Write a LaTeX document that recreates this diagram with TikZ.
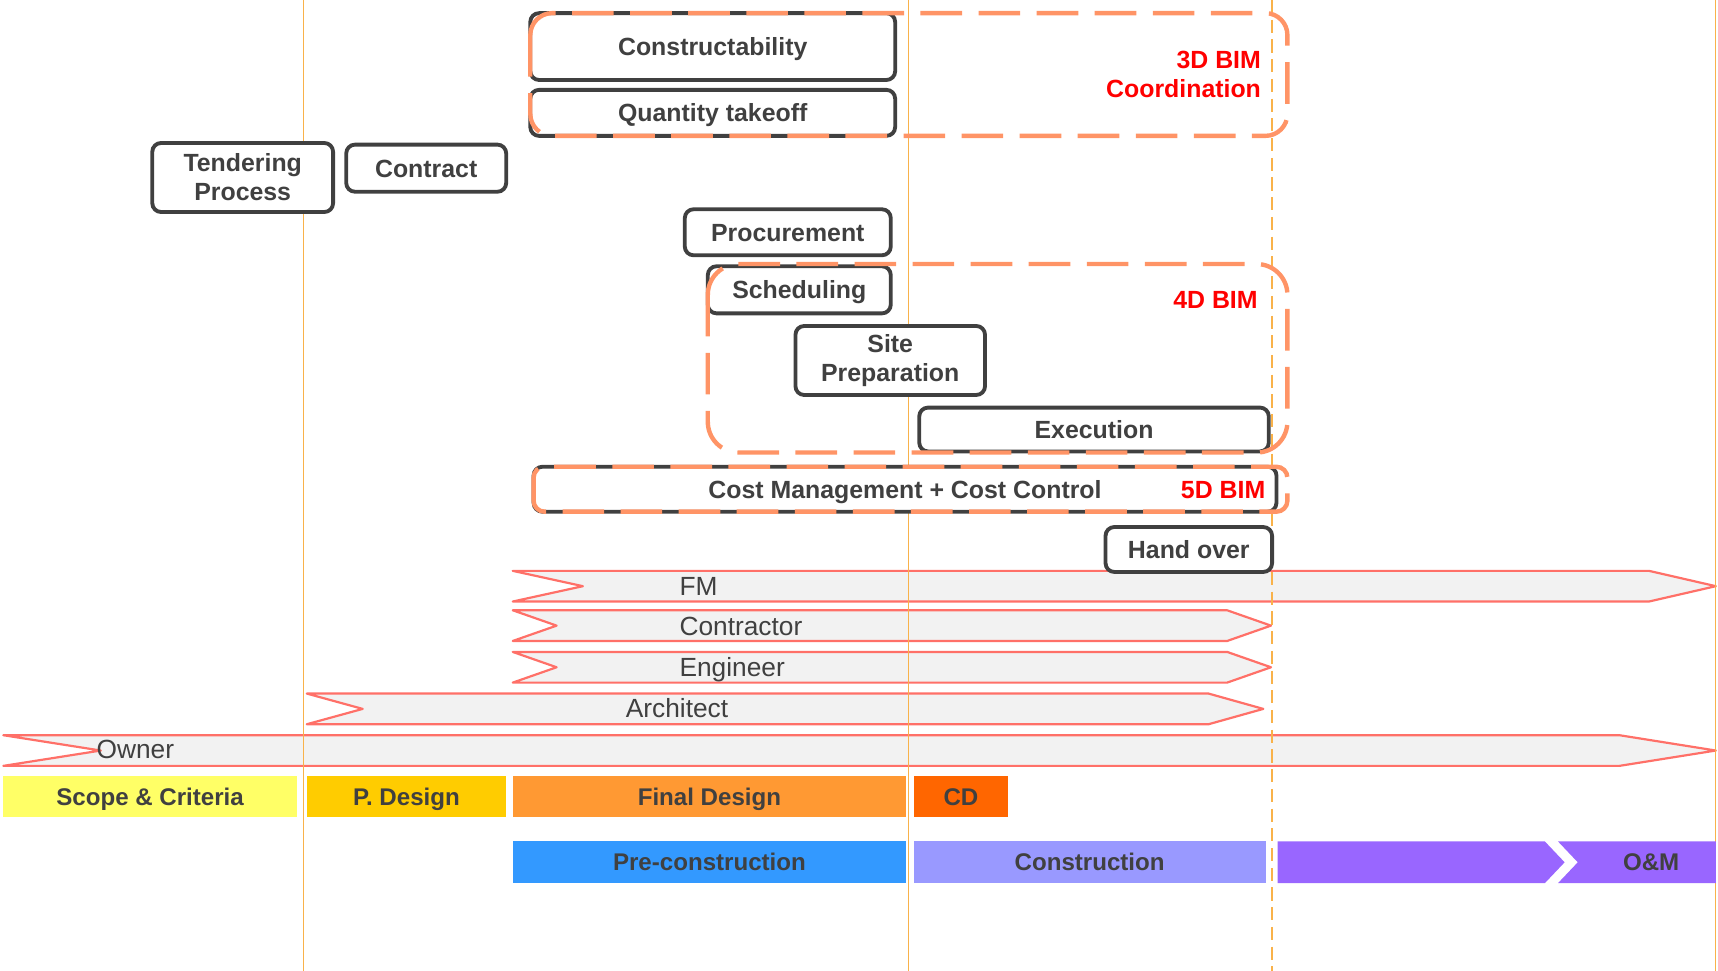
\documentclass[tikz,border=0pt]{standalone}
\usepackage{fontspec}
\setmainfont{Liberation Sans}
\definecolor{boxgrey}{HTML}{404040}
\definecolor{bimorange}{HTML}{FF9466}
\definecolor{rolered}{HTML}{FF7068}
\definecolor{rolegrey}{HTML}{F2F2F2}
\definecolor{lineorange}{HTML}{F9B24A}
\definecolor{scopeyellow}{HTML}{FFFF66}
\definecolor{pdesigngold}{HTML}{FFCC00}
\definecolor{finalorange}{HTML}{FF9933}
\definecolor{cdorange}{HTML}{FF6600}
\definecolor{preblue}{HTML}{3399FF}
\definecolor{conlilac}{HTML}{9999FF}
\definecolor{ompurple}{HTML}{9966FF}
\begin{document}
\begin{tikzpicture}[x=1pt, y=-1pt,
        task/.style = {draw=boxgrey, fill=white, line width=3.5pt, rounded corners=8pt, inner sep=0pt,
            text=boxgrey, align=center, font=\fontsize{22.7}{26.5}\selectfont\bfseries},
        oneline/.style = {text height=16.25pt, text depth=0pt},
        bim/.style = {draw=bimorange, line width=4pt, dash pattern=on 38pt off 15pt},
        bimlabel/.style = {anchor=east, inner sep=0pt, text=red, align=right,
            font=\fontsize{22.7}{27}\selectfont\bfseries},
        role/.style = {draw=rolered, fill=rolegrey, line width=2pt, line join=round},
        rolelabel/.style = {anchor=west, inner sep=0pt, text=boxgrey, text height=17.2pt, text depth=0pt,
            font=\fontsize{24}{28}\selectfont},
        phase/.style = {minimum height=38pt, inner sep=0pt, text=boxgrey, text height=15.75pt, text depth=0pt,
            font=\fontsize{22}{26}\selectfont\bfseries},
        timeline/.style = {draw=lineorange, line width=1.2pt}]
    \useasboundingbox (0,0) rectangle (1568,886);
    % roles
    \draw[role] (468,521) -- (1505,521) -- (1566,535) -- (1505,549) -- (468,549) -- (532,535) -- cycle;
    \draw[role] (468,557) -- (1120,557) -- (1160,571) -- (1120,585) -- (468,585) -- (508,571) -- cycle;
    \draw[role] (468,595) -- (1120,595) -- (1160,609) -- (1120,623) -- (468,623) -- (508,609) -- cycle;
    \draw[role] (280,633) -- (1103,633) -- (1153,647) -- (1103,661) -- (280,661) -- (331,647) -- cycle;
    \draw[role] (3,671) -- (1478,671) -- (1566,685) -- (1478,699) -- (3,699) -- (92,685) -- cycle;
    \node[rolelabel] (fm) at (620,535) {FM};
    \node[rolelabel] (contractor) at (620,571) {Contractor};
    \node[rolelabel] (engineer) at (620,609) {Engineer};
    \node[rolelabel] (architect) at (571,646) {Architect};
    \node[rolelabel] (owner) at (88,684) {Owner};
    % milestones
    \draw[timeline] (277,0) -- (277,886);
    \draw[timeline] (829,0) -- (829,886);
    \draw[timeline, dash pattern=on 12pt off 6pt] (1161,0) -- (1161,886);
    \draw[timeline] (1566,0) -- (1566,886);
    % phases
    \node[phase, fill=scopeyellow, minimum width=268pt] (scope) at (137,727) {Scope \& Criteria};
    \node[phase, fill=pdesigngold, minimum width=182pt] (pdesign) at (371,727) {P. Design};
    \node[phase, fill=finalorange, minimum width=359pt] (final) at (647.5,727) {Final Design};
    \node[phase, fill=cdorange, minimum width=86pt] (cd) at (877,727) {CD};
    \node[phase, fill=preblue, minimum width=359pt] (precon) at (647.5,787) {Pre-construction};
    \node[phase, fill=conlilac, minimum width=321pt] (construction) at (994.5,787) {Construction};
    \fill[ompurple] (1166,768) -- (1410,768) -- (1428,787) -- (1410,806) -- (1166,806) -- cycle;
    \fill[ompurple] (1422,768) -- (1566,768) -- (1566,806) -- (1422,806) -- (1440,787) -- cycle;
    \node[phase] (om) at (1507,787) {O\&M};
    % tasks
    \node[task, oneline, minimum width=333pt, minimum height=61pt] (constr) at (650.5,42.5) {Constructability};
    \node[task, oneline, minimum width=333pt, minimum height=42pt] (qty) at (650.5,103) {Quantity takeoff};
    \node[task, minimum width=165pt, minimum height=63pt] (tender) at (221.5,162) {Tendering\\Process};
    \node[task, oneline, minimum width=146pt, minimum height=43pt] (contract) at (389,153.5) {Contract};
    \node[task, oneline, minimum width=188pt, minimum height=42pt] (procure) at (719,212) {Procurement};
    \node[task, oneline, minimum width=167pt, minimum height=43pt] (sched) at (729.5,264.5) {Scheduling};
    \node[task, minimum width=173pt, minimum height=63pt] (sitep) at (812.5,329) {Site\\Preparation};
    \node[task, oneline, minimum width=319pt, minimum height=40pt] (exec) at (998.5,392) {Execution};
    \node[task, oneline, minimum width=678pt, minimum height=41pt] (cost) at (826,446.5) {Cost Management + Cost Control};
    \node[task, oneline, minimum width=152pt, minimum height=41pt] (handover) at (1085,501.5) {Hand over};
    % BIM groups
    \draw[bim, rounded corners=20pt] (484,12) rectangle (1175,124);
    \draw[bim, rounded corners=28pt] (646,241) rectangle (1175,413);
    \draw[bim, rounded corners=10pt] (487,426) rectangle (1175,467);
    \node[bimlabel] (bim3) at (1151,68) {3D BIM\\Coordination};
    \node[bimlabel] (bim4) at (1148,273.5) {4D BIM};
    \node[bimlabel] (bim5) at (1155,447) {5D BIM};
\end{tikzpicture}
\end{document}
